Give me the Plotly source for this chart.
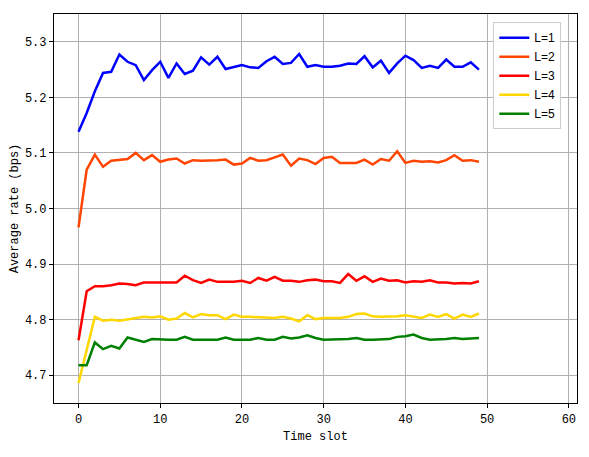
import plotly.graph_objects as go

time_slot = list(range(50))

L1 = [5.138, 5.172, 5.211, 5.244, 5.246, 5.277, 5.264, 5.258, 5.231, 5.249,
      5.264, 5.235, 5.261, 5.242, 5.248, 5.272, 5.259, 5.273, 5.251, 5.254,
      5.258, 5.254, 5.253, 5.265, 5.273, 5.260, 5.262, 5.278, 5.255, 5.258,
      5.255, 5.255, 5.257, 5.261, 5.260, 5.274, 5.254, 5.266, 5.244, 5.261,
      5.275, 5.267, 5.253, 5.257, 5.253, 5.268, 5.255, 5.255, 5.263, 5.250]

L2 = [4.966, 5.070, 5.097, 5.075, 5.086, 5.088, 5.089, 5.100, 5.087, 5.096,
      5.084, 5.088, 5.090, 5.081, 5.087, 5.086, 5.086, 5.087, 5.088, 5.079,
      5.081, 5.091, 5.086, 5.087, 5.092, 5.097, 5.077, 5.090, 5.087, 5.080,
      5.091, 5.093, 5.082, 5.082, 5.082, 5.088, 5.079, 5.089, 5.086, 5.103,
      5.082, 5.086, 5.084, 5.085, 5.083, 5.087, 5.096, 5.086, 5.087, 5.084]

L3 = [4.763, 4.851, 4.860, 4.860, 4.862, 4.865, 4.864, 4.862, 4.867, 4.867,
      4.867, 4.868, 4.867, 4.879, 4.871, 4.866, 4.872, 4.868, 4.868, 4.868,
      4.870, 4.866, 4.875, 4.870, 4.877, 4.870, 4.870, 4.868, 4.871, 4.872,
      4.869, 4.869, 4.866, 4.882, 4.870, 4.878, 4.868, 4.874, 4.870, 4.871,
      4.867, 4.869, 4.868, 4.871, 4.867, 4.867, 4.865, 4.866, 4.865, 4.869]

L4 = [4.686, 4.745, 4.805, 4.798, 4.800, 4.798, 4.800, 4.803, 4.805, 4.804,
      4.806, 4.800, 4.802, 4.812, 4.804, 4.810, 4.808, 4.808, 4.801, 4.809,
      4.805, 4.805, 4.804, 4.804, 4.803, 4.805, 4.802, 4.797, 4.808, 4.801,
      4.803, 4.803, 4.803, 4.805, 4.810, 4.811, 4.806, 4.805, 4.805, 4.806,
      4.808, 4.805, 4.803, 4.809, 4.805, 4.810, 4.802, 4.809, 4.805, 4.811]

L5 = [4.718, 4.718, 4.759, 4.747, 4.753, 4.748, 4.768, 4.764, 4.760, 4.765,
      4.764, 4.764, 4.764, 4.769, 4.764, 4.764, 4.764, 4.764, 4.768, 4.764,
      4.764, 4.764, 4.767, 4.764, 4.764, 4.769, 4.766, 4.768, 4.772, 4.767,
      4.764, 4.764, 4.764, 4.765, 4.767, 4.764, 4.764, 4.764, 4.765, 4.769,
      4.770, 4.773, 4.767, 4.764, 4.764, 4.765, 4.767, 4.765, 4.766, 4.767]

series_names = ["L=1", "L=2", "L=3", "L=4", "L=5"]
series_values = [L1, L2, L3, L4, L5]
series_colors = ["#0000FF", "#FF4500", "#FF0000", "#FFD700", "#008000"]

fig = go.Figure()
for name, vals, col in zip(series_names, series_values, series_colors):
    fig.add_trace(go.Scatter(x=time_slot, y=vals, mode="lines", name=name,
                             line=dict(color=col, width=2.5)))

axis_font = dict(family="Liberation Mono, DejaVu Sans Mono, monospace", size=12, color="black")

fig.update_layout(
    width=581, height=449,
    margin=dict(l=46, r=12, t=6, b=54),
    paper_bgcolor="white", plot_bgcolor="white",
    showlegend=True,
    legend=dict(x=0.97, y=0.979, xanchor="right", yanchor="top",
                bgcolor="rgba(255,255,255,0.9)", bordercolor="#cccccc", borderwidth=1,
                font=dict(family="Liberation Sans, Arial, sans-serif", size=12, color="black"),
                itemwidth=30),
    xaxis=dict(range=[-3, 61], tick0=0, dtick=10, showgrid=True, gridcolor="#b0b0b0",
               gridwidth=1, zeroline=False, showline=True, linecolor="black", linewidth=1.2,
               mirror=True, ticks="outside", ticklen=4, tickcolor="black",
               tickfont=axis_font, automargin=False,
               title=dict(text="Time slot", font=axis_font, standoff=6)),
    yaxis=dict(range=[4.65, 5.35], tick0=4.7, dtick=0.1, tickformat=".1f", showgrid=True,
               gridcolor="#b0b0b0", gridwidth=1, zeroline=False, showline=True,
               linecolor="black", linewidth=1.2, mirror=True, ticks="outside", ticklen=4,
               tickcolor="black", tickfont=axis_font, automargin=False,
               title=dict(text="Average rate (bps)", font=axis_font, standoff=8)),
)

fig.write_html("out.html")
